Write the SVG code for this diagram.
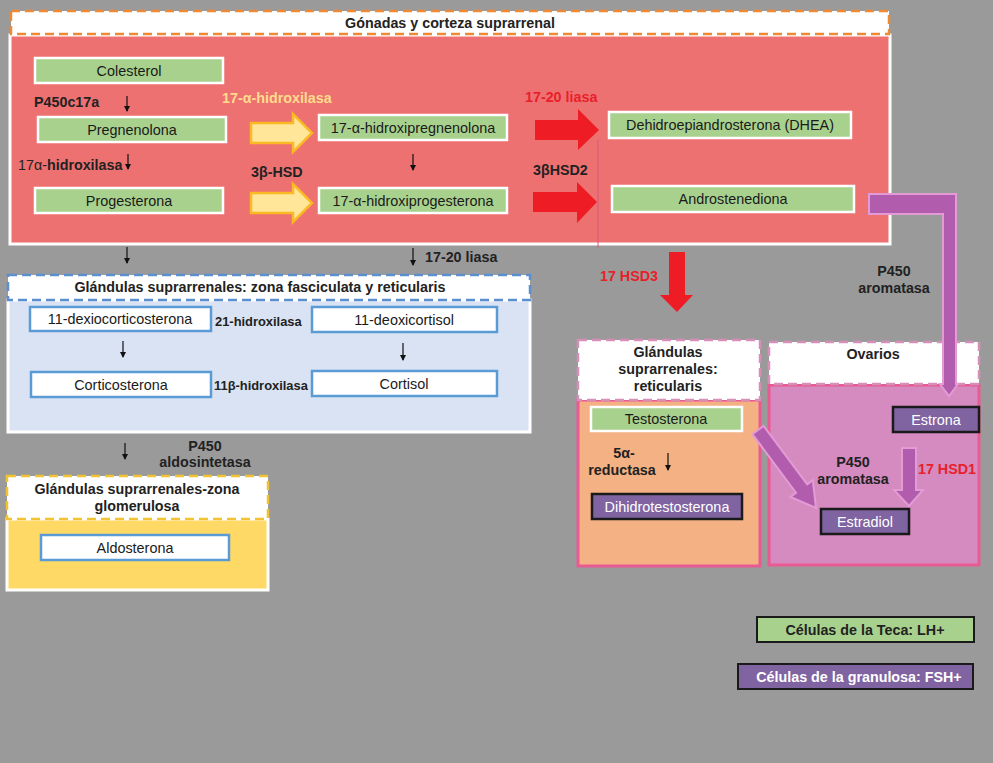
<svg xmlns="http://www.w3.org/2000/svg" width="993" height="763" viewBox="0 0 993 763">
<defs>
<style>
text{font-family:"Liberation Sans",Arial,sans-serif;}
.n{font-size:14.4px;fill:#1a1a1a;text-anchor:middle;}
.b{font-size:14.3px;font-weight:bold;fill:#222;}
.s{font-size:12.9px;}
.c{text-anchor:middle;}
.red{fill:#e8202a;}
.w{fill:#fff;}
.green{fill:#a9d18e;stroke:#fff;stroke-width:2.5;}
.blue{fill:#fff;stroke:#5b9bd5;stroke-width:2.5;}
.purp{fill:#8064a2;stroke:#1a1a1a;stroke-width:2.5;}
.hdr{fill:#fff;stroke-width:2.5;stroke-dasharray:9 5;}
.thin{stroke:#111;stroke-width:1.2;fill:none;marker-end:url(#ah);}
.ya{fill:#ffe699;stroke:#fbb924;stroke-width:2.5;stroke-linejoin:miter;}
.ra{fill:#ee1c24;}
.pa{fill:#b25cad;stroke:#e39bd6;stroke-width:2;}
</style>
<marker id="ah" markerWidth="6" markerHeight="6" refX="5" refY="3" orient="auto" markerUnits="userSpaceOnUse">
<path d="M0,0 L6,3 L0,6 z" fill="#111"/>
</marker>
</defs>
<rect width="993" height="763" fill="#9a9a9a"/>

<g id="gonadas">
<rect x="10" y="35" width="880" height="209" fill="#ee7171" stroke="#fff" stroke-width="3"/>
<rect class="hdr" x="11" y="11" width="878" height="23" stroke="#ee8a36"/>
<text class="b c" x="450" y="28">Gónadas y corteza suprarrenal</text>
</g>

<g id="fasciculata">
<rect x="8" y="300" width="522" height="132" fill="#dae3f3" stroke="#fff" stroke-width="3"/>
<rect class="hdr" x="8" y="275" width="522" height="25" stroke="#5b8fd0"/>
<text class="b c" x="260" y="292">Glándulas suprarrenales: zona fasciculata y reticularis</text>
</g>

<g id="glomerulosa">
<rect x="7" y="519" width="261" height="71" fill="#ffd966" stroke="#fff" stroke-width="3"/>
<rect class="hdr" x="7" y="476" width="261" height="43" stroke="#f2c232"/>
<text class="b c" x="137" y="494">Glándulas suprarrenales-zona</text>
<text class="b c" x="137" y="511">glomerulosa</text>
</g>

<g id="reticularis">
<rect x="578" y="400" width="182" height="166" fill="#f4b183" stroke="#ea5a92" stroke-width="3"/>
<rect class="hdr" x="578" y="340" width="182" height="60" stroke="#d68fb8"/>
<text class="b c" x="668" y="357">Glándulas</text>
<text class="b c" x="668" y="374">suprarrenales:</text>
<text class="b c" x="668" y="391">reticularis</text>
</g>

<g id="ovarios">
<rect x="769" y="385" width="210" height="180" fill="#d58ac0" stroke="#ea5a92" stroke-width="3"/>
<rect class="hdr" x="769" y="342" width="210" height="42" stroke="#d68fb8"/>
<text class="b c" x="873" y="359">Ovarios</text>
</g>

<g id="colesterol"><rect class="green" x="35" y="58" width="188" height="25"/><text class="n" x="129" y="76">Colesterol</text></g>
<g id="pregnenolona"><rect class="green" x="38" y="117" width="188" height="25"/><text class="n" x="132" y="135">Pregnenolona</text></g>
<g id="progesterona"><rect class="green" x="35" y="188" width="188" height="25"/><text class="n" x="129" y="206">Progesterona</text></g>
<g id="hidroxipregnenolona"><rect class="green" x="319" y="115" width="188" height="25"/><text class="n" x="413" y="133">17-α-hidroxipregnenolona</text></g>
<g id="hidroxiprogesterona"><rect class="green" x="319" y="188" width="188" height="25"/><text class="n" x="413" y="206">17-α-hidroxiprogesterona</text></g>
<g id="dhea"><rect class="green" x="609" y="112" width="242" height="26"/><text class="n" x="730" y="130">Dehidroepiandrosterona (DHEA)</text></g>
<g id="androstenediona"><rect class="green" x="612" y="186" width="242" height="26"/><text class="n" x="733" y="204">Androstenediona</text></g>

<g id="dexiocorticosterona"><rect class="blue" x="30" y="307" width="181" height="24"/><text class="n" x="120" y="324">11-dexiocorticosterona</text></g>
<g id="deoxicortisol"><rect class="blue" x="312" y="307" width="185" height="25"/><text class="n" x="404" y="325">11-deoxicortisol</text></g>
<g id="corticosterona"><rect class="blue" x="31" y="372" width="180" height="25"/><text class="n" x="121" y="390">Corticosterona</text></g>
<g id="cortisol"><rect class="blue" x="312" y="371" width="185" height="25"/><text class="n" x="404" y="389">Cortisol</text></g>
<g id="aldosterona"><rect class="blue" x="41" y="535" width="188" height="25"/><text class="n" x="135" y="553">Aldosterona</text></g>

<g id="testosterona"><rect class="green" x="591" y="407" width="151" height="24"/><text class="n" x="666" y="424">Testosterona</text></g>
<g id="dihidrotestosterona"><rect class="purp" x="592" y="494" width="150" height="25"/><text class="n w" x="667" y="512">Dihidrotestosterona</text></g>
<g id="estrona"><rect class="purp" x="893" y="407" width="86" height="25"/><text class="n w" x="936" y="425">Estrona</text></g>
<g id="estradiol"><rect class="purp" x="821" y="509" width="88" height="25"/><text class="n w" x="865" y="527">Estradiol</text></g>

<g id="leyenda-teca"><rect x="757" y="617" width="217" height="25" fill="#a9d18e" stroke="#1a1a1a" stroke-width="2"/><text class="b c" x="865" y="635">Células de la Teca: LH+</text></g>
<g id="leyenda-granulosa"><rect x="738" y="664" width="235" height="25" fill="#8064a2" stroke="#1a1a1a" stroke-width="2"/><text class="b c w" x="859" y="682">Células de la granulosa: FSH+</text></g>

<g id="connectors">
<line x1="598" y1="140" x2="598" y2="248" stroke="#d45a7c" stroke-width="1"/>
<line class="thin" x1="127" y1="96" x2="127" y2="111"/>
<line class="thin" x1="128" y1="154" x2="128" y2="169"/>
<line class="thin" x1="413" y1="154" x2="413" y2="170"/>
<line class="thin" x1="127" y1="247" x2="127" y2="263"/>
<line class="thin" x1="413" y1="248" x2="413" y2="265"/>
<line class="thin" x1="123" y1="341" x2="123" y2="357"/>
<line class="thin" x1="403" y1="343" x2="403" y2="360"/>
<line class="thin" x1="125" y1="443" x2="125" y2="459"/>
<line class="thin" x1="668" y1="453" x2="668" y2="470"/>

<polygon class="ya" points="251,123 293,123 293,114 312,133 293,152 293,143 251,143"/>
<polygon class="ya" points="251,193 293,193 293,184 312,203 293,222 293,213 251,213"/>
<polygon class="ra" points="535,120 578,120 578,109 599,130 578,150 578,140 535,140"/>
<polygon class="ra" points="533,192 577,192 577,182 597,202 577,223 577,212 533,212"/>
<polygon class="ra" points="669,252 685,252 685,295 693,295 677,312 660,295 669,295"/>

<path class="pa" d="M869,194 L956,194 L956,384 L958,384 L949,396 L940,384 L943,384 L943,214 L869,214 Z"/>
<polygon class="pa" points="902,448 916,448 916,490 923,490 909,506 894,490 902,490"/>
<polygon class="pa" points="752.4,434.2 763.6,425.8 807.2,484.3 812.8,480.1 816,508 790.4,496.9 796,492.7"/>
</g>

<g id="labels">
<text class="b" x="34" y="107">P450c17a</text>
<text class="b" x="18" y="170"><tspan font-weight="normal">17α-</tspan>hidroxilasa</text>
<text class="b" x="222" y="103" style="fill:#ffdc8c">17-α-hidroxilasa</text>
<text class="b" x="251" y="177">3β-HSD</text>
<text class="b red" x="525" y="102">17-20 liasa</text>
<text class="b" x="533" y="175">3βHSD2</text>
<text class="b" x="425" y="262">17-20 liasa</text>
<text class="b s" x="215" y="326">21-hidroxilasa</text>
<text class="b s" x="214" y="390">11β-hidroxilasa</text>
<text class="b c" x="205" y="451">P450</text>
<text class="b c" x="205" y="467">aldosintetasa</text>
<text class="b red" x="600" y="281">17 HSD3</text>
<text class="b c" x="894" y="276">P450</text>
<text class="b c" x="894" y="293">aromatasa</text>
<text class="b c" x="624" y="458">5α-</text>
<text class="b c" x="622" y="475">reductasa</text>
<text class="b c" x="853" y="467">P450</text>
<text class="b c" x="853" y="484">aromatasa</text>
<text class="b red" x="918" y="474">17 HSD1</text>
</g>
</svg>
